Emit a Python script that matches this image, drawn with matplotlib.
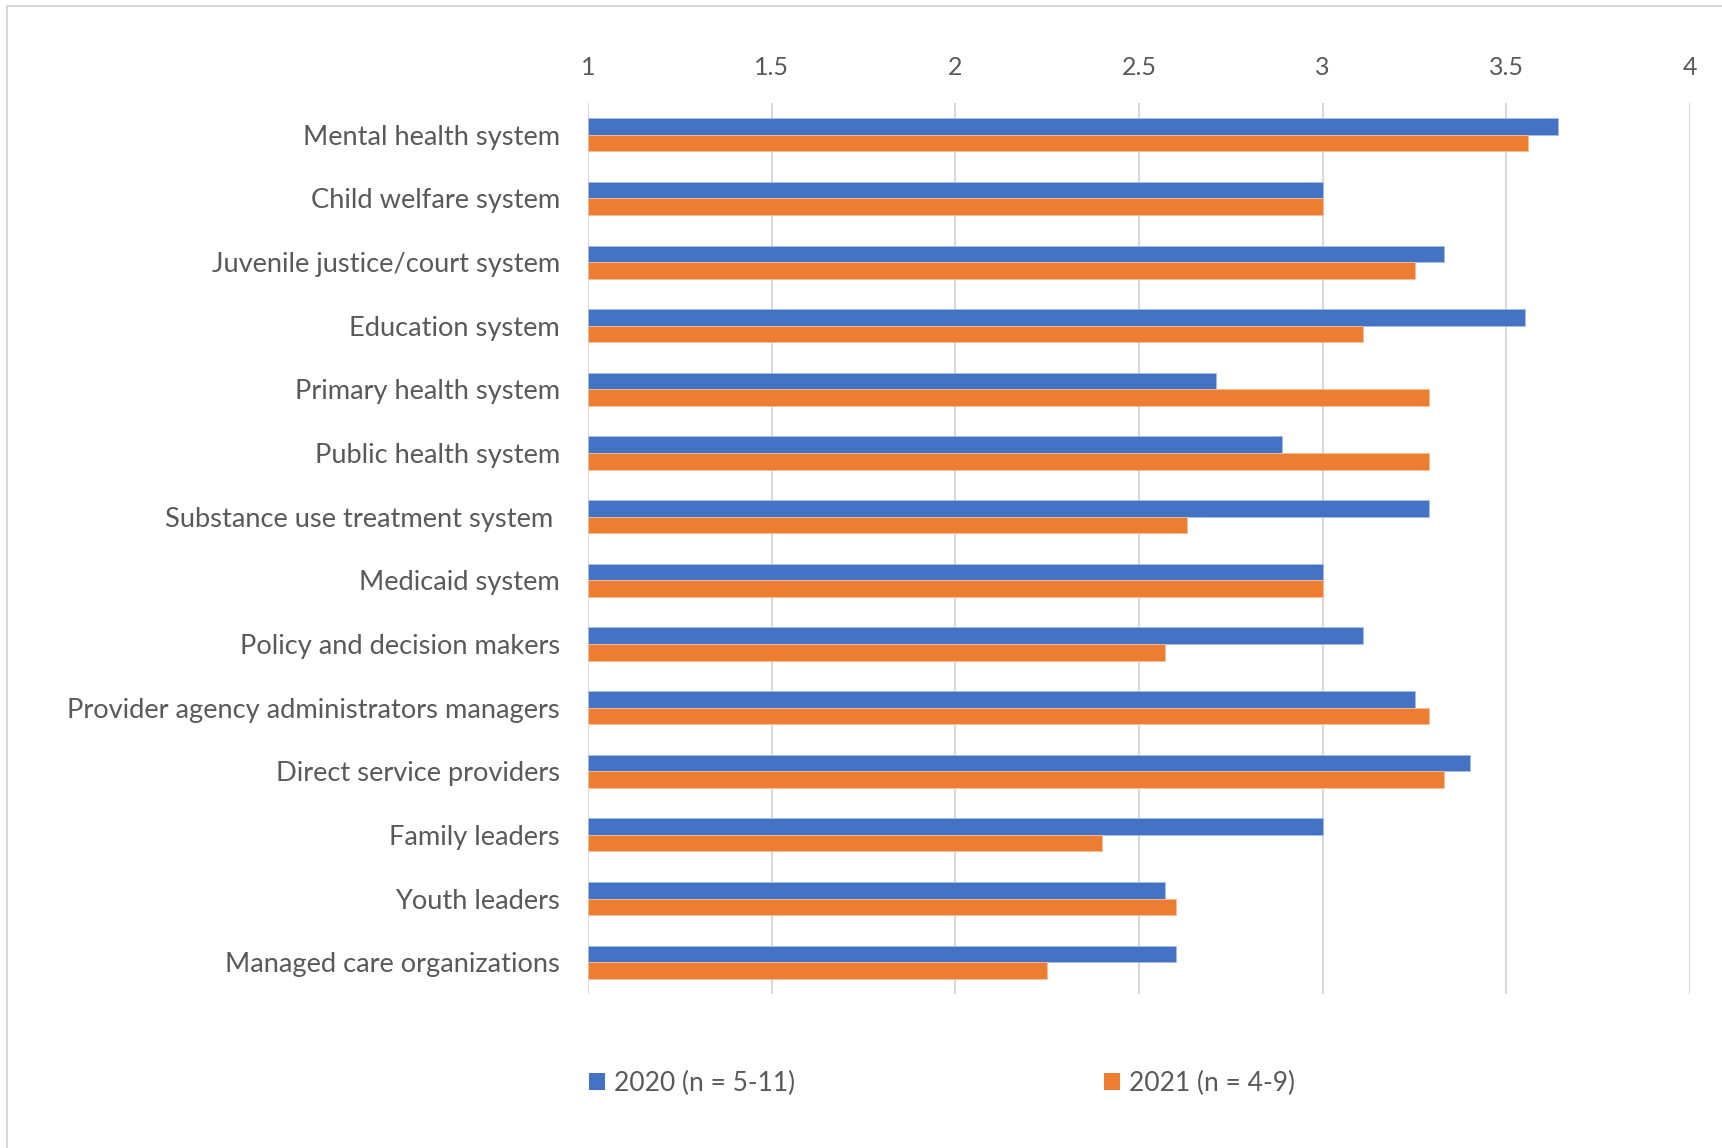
import matplotlib
matplotlib.use("Agg")
import matplotlib.pyplot as plt
import numpy as np
from matplotlib.patches import Rectangle, Patch

plt.rcParams['font.family'] = ['Lato', 'DejaVu Sans']

categories = [
    "Mental health system",
    "Child welfare system",
    "Juvenile justice/court system",
    "Education system",
    "Primary health system",
    "Public health system",
    "Substance use treatment system ",
    "Medicaid system",
    "Policy and decision makers",
    "Provider agency administrators managers",
    "Direct service providers",
    "Family leaders",
    "Youth leaders",
    "Managed care organizations",
]
values_2020 = [3.64, 3.00, 3.33, 3.55, 2.71, 2.89, 3.29, 3.00, 3.11, 3.25, 3.40, 3.00, 2.57, 2.60]
values_2021 = [3.56, 3.00, 3.25, 3.11, 3.29, 3.29, 2.63, 3.00, 2.57, 3.29, 3.33, 2.40, 2.60, 2.25]
series_labels = ["2020 (n = 5-11)", "2021 (n = 4-9)"]
x_ticks = [1, 1.5, 2, 2.5, 3, 3.5, 4]
x_tick_labels = ["1", "1.5", "2", "2.5", "3", "3.5", "4"]

BLUE = "#4472C4"
ORANGE = "#ED7D31"
TEXT = "#595959"
GRID = "#D9D9D9"

W, H = 1722, 1148
fig = plt.figure(figsize=(W / 100, H / 100), dpi=100)

# outer chart frame
fig.patches.append(Rectangle((7 / W, -0.05), 1.2, 1 - 6 / H + 0.05,
                             transform=fig.transFigure, fill=False,
                             edgecolor=GRID, linewidth=1.5))

left, right = 588 / W, 1690 / W
top, bottom = 1 - 103 / H, 1 - 994 / H
ax = fig.add_axes([left, bottom, right - left, top - bottom])

y = np.arange(len(categories))
h = 0.26
ax.barh(y - h / 2, np.array(values_2020) - 1, left=1, height=h,
        color=BLUE, edgecolor="#A9BDE6", linewidth=0.6, zorder=3)
ax.barh(y + h / 2, np.array(values_2021) - 1, left=1, height=h,
        color=ORANGE, edgecolor="#F6BD9A", linewidth=0.6, zorder=3)

ax.set_xlim(1, 4)
ax.set_ylim(len(categories) - 0.5, -0.5)
ax.set_xticks(x_ticks)
ax.set_xticklabels(x_tick_labels)
ax.xaxis.tick_top()
ax.tick_params(axis='x', length=0, pad=17, labelsize=18, labelcolor=TEXT)
ax.set_yticks(y)
ax.set_yticklabels(categories)
ax.tick_params(axis='y', length=0, pad=20, labelsize=19.6, labelcolor=TEXT)
ax.grid(axis='x', color=GRID, linewidth=1.5, zorder=0)
for s in ax.spines.values():
    s.set_visible(False)

handles = [Patch(facecolor=BLUE), Patch(facecolor=ORANGE)]
fig.legend(handles, series_labels, loc='center left',
           bbox_to_anchor=(589 / W, 1 - 1083 / H), ncol=2,
           frameon=False, fontsize=19, labelcolor=TEXT,
           handlelength=0.6, handleheight=0.6, handletextpad=0.35,
           columnspacing=11.7, borderaxespad=0, borderpad=0)

fig.savefig("out.png", dpi=100, facecolor="white")
